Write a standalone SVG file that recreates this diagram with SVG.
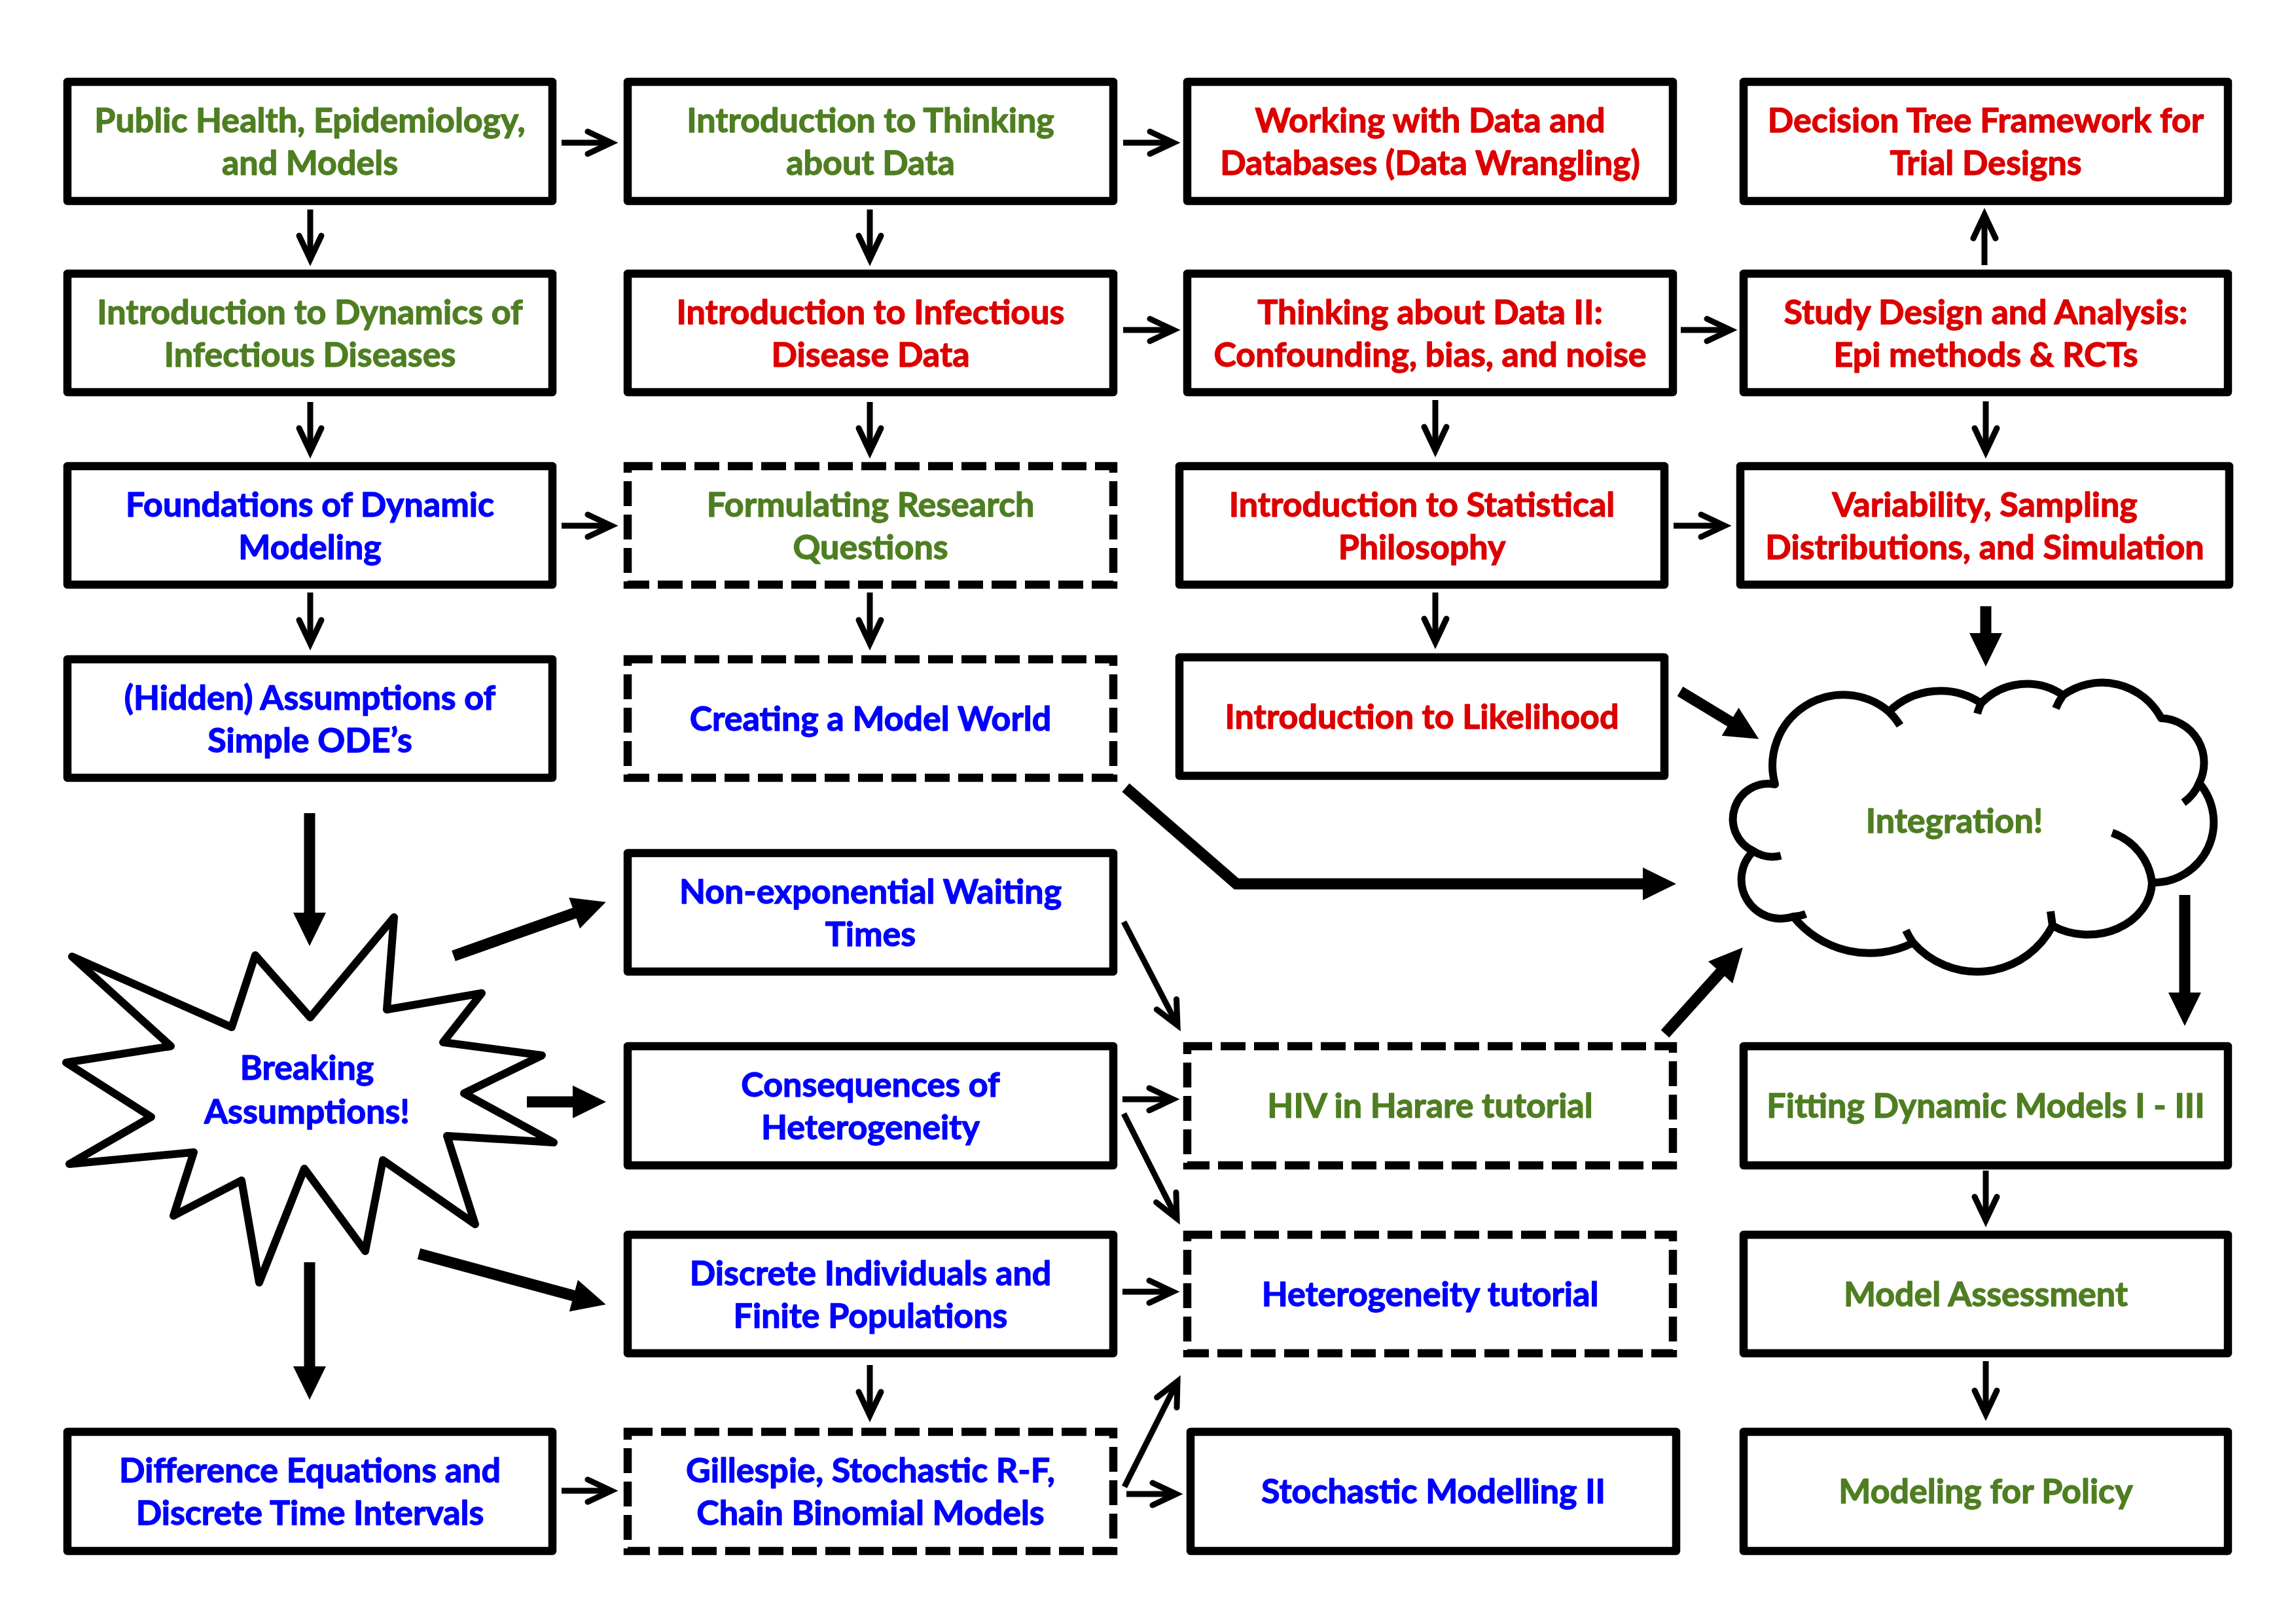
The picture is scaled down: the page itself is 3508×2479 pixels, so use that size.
<svg xmlns="http://www.w3.org/2000/svg" width="3508" height="2479" viewBox="0 0 3508 2479">
<style>
.box{fill:#fff;stroke:#000;stroke-width:12.5;stroke-linejoin:round}
.dash{fill:#fff;stroke:#000;stroke-width:12.5;stroke-dasharray:38 13}
.t{font-family:Lato,"Liberation Sans",sans-serif;font-weight:bold;font-size:52px;text-anchor:middle;stroke-width:1.3;stroke-linejoin:round}
.g{fill:#4E7E21;stroke:#4E7E21}.r{fill:#DC0000;stroke:#DC0000}.b{fill:#0000FF;stroke:#0000FF}
.thin{stroke:#000;stroke-width:9;fill:none;marker-end:url(#ah)}
.thick{stroke:#000;stroke-width:17;fill:none;marker-end:url(#bh)}
.shape{fill:#fff;stroke:#000;stroke-width:12;stroke-linejoin:round}
.stub{fill:none;stroke:#000;stroke-width:12}
</style>
<defs>
<marker id="ah" markerUnits="userSpaceOnUse" viewBox="-50 -30 70 60" markerWidth="70" markerHeight="60" refX="0" refY="0" orient="auto"><path d="M-36,-17 L0,0 L-36,17" fill="none" stroke="#000" stroke-width="9" stroke-linecap="round"/></marker>
<marker id="bh" markerUnits="userSpaceOnUse" viewBox="-20 -30 70 60" markerWidth="70" markerHeight="60" refX="0" refY="0" orient="auto"><path d="M-11,-25 L40,0 L-11,25 Z" fill="#000"/></marker>
</defs>
<rect width="3508" height="2479" fill="#fff"/>

<g id="connectors">
<line class="thin" x1="858" y1="218" x2="934" y2="218"/>
<line class="thin" x1="1716" y1="218" x2="1793" y2="218"/>
<line class="thin" x1="474" y1="320" x2="474" y2="396"/>
<line class="thin" x1="1329" y1="320" x2="1329" y2="396"/>
<line class="thin" x1="474" y1="614" x2="474" y2="690"/>
<line class="thin" x1="1329" y1="614" x2="1329" y2="690"/>
<line class="thin" x1="1716" y1="504" x2="1793" y2="504"/>
<line class="thin" x1="2568" y1="504" x2="2644" y2="504"/>
<line class="thin" x1="3032" y1="405" x2="3032" y2="328"/>
<line class="thin" x1="3034" y1="613" x2="3034" y2="690"/>
<line class="thin" x1="2193" y1="611" x2="2193" y2="688"/>
<line class="thin" x1="858" y1="803" x2="934" y2="803"/>
<line class="thin" x1="474" y1="905" x2="474" y2="983"/>
<line class="thin" x1="1329" y1="905" x2="1329" y2="983"/>
<line class="thin" x1="2193" y1="905" x2="2193" y2="981"/>
<line class="thin" x1="2557" y1="803" x2="2635" y2="803"/>
<line class="thin" x1="1717" y1="1408" x2="1799" y2="1566"/>
<line class="thin" x1="1715" y1="1679" x2="1792" y2="1679"/>
<line class="thin" x1="1717" y1="1701" x2="1798" y2="1861"/>
<line class="thin" x1="1715" y1="1973" x2="1792" y2="1973"/>
<line class="thin" x1="1329" y1="2085" x2="1329" y2="2162"/>
<line class="thin" x1="858" y1="2277" x2="934" y2="2277"/>
<line class="thin" x1="1718" y1="2271" x2="1799" y2="2110"/>
<line class="thin" x1="1721" y1="2282" x2="1797" y2="2282"/>
<line class="thin" x1="3034" y1="1788" x2="3034" y2="1864"/>
<line class="thin" x1="3034" y1="2079" x2="3034" y2="2160"/>

<line class="thick" x1="473" y1="1242" x2="473" y2="1405"/>
<line class="thick" x1="473" y1="1928" x2="473" y2="2098"/>
<line class="thick" x1="693" y1="1460" x2="888" y2="1391"/>
<line class="thick" x1="805" y1="1683" x2="886" y2="1683"/>
<line class="thick" x1="640" y1="1915" x2="887" y2="1982"/>
<polyline class="thick" points="1720,1203 1889,1350 2521,1350"/>
<line class="thick" x1="2567" y1="1056" x2="2653" y2="1108"/>
<line class="thick" x1="3034" y1="926" x2="3034" y2="978"/>
<line class="thick" x1="2544" y1="1579" x2="2636" y2="1477"/>
<line class="thick" x1="3338" y1="1367" x2="3338" y2="1527"/>
</g>

<g id="n-public-health"><rect class="box" x="103" y="125" width="741" height="182"/>
<text class="t g" x="473.5" y="202">Public Health, Epidemiology,</text><text class="t g" x="473.5" y="267">and Models</text></g>
<g id="n-intro-thinking"><rect class="box" x="959" y="125" width="742" height="182"/>
<text class="t g" x="1330" y="202">Introduction to Thinking</text><text class="t g" x="1330" y="267">about Data</text></g>
<g id="n-working-data"><rect class="box" x="1814" y="125" width="742" height="182"/>
<text class="t r" x="2185" y="202">Working with Data and</text><text class="t r" x="2185" y="267">Databases (Data Wrangling)</text></g>
<g id="n-decision-tree"><rect class="box" x="2664" y="125" width="740" height="182"/>
<text class="t r" x="3034" y="202">Decision Tree Framework for</text><text class="t r" x="3034" y="267">Trial Designs</text></g>

<g id="n-intro-dynamics"><rect class="box" x="103" y="418" width="741" height="181"/>
<text class="t g" x="473.5" y="495">Introduction to Dynamics of</text><text class="t g" x="473.5" y="560">Infectious Diseases</text></g>
<g id="n-intro-id-data"><rect class="box" x="959" y="418" width="742" height="181"/>
<text class="t r" x="1330" y="495">Introduction to Infectious</text><text class="t r" x="1330" y="560">Disease Data</text></g>
<g id="n-thinking-data-2"><rect class="box" x="1814" y="418" width="742" height="181"/>
<text class="t r" x="2185" y="495">Thinking about Data II:</text><text class="t r" x="2185" y="560">Confounding, bias, and noise</text></g>
<g id="n-study-design"><rect class="box" x="2664" y="418" width="740" height="181"/>
<text class="t r" x="3034" y="495">Study Design and Analysis:</text><text class="t r" x="3034" y="560">Epi methods &amp; RCTs</text></g>

<g id="n-foundations"><rect class="box" x="103" y="712" width="741" height="181"/>
<text class="t b" x="473.5" y="789">Foundations of Dynamic</text><text class="t b" x="473.5" y="854">Modeling</text></g>
<g id="n-formulating"><rect class="dash" x="959" y="712" width="742" height="181"/>
<text class="t g" x="1330" y="789">Formulating Research</text><text class="t g" x="1330" y="854">Questions</text></g>
<g id="n-stat-philosophy"><rect class="box" x="1802" y="712" width="741" height="181"/>
<text class="t r" x="2172.5" y="789">Introduction to Statistical</text><text class="t r" x="2172.5" y="854">Philosophy</text></g>
<g id="n-variability"><rect class="box" x="2659" y="712" width="747" height="181"/>
<text class="t r" x="3032.5" y="789">Variability, Sampling</text><text class="t r" x="3032.5" y="854">Distributions, and Simulation</text></g>

<g id="n-hidden-assumptions"><rect class="box" x="103" y="1007" width="741" height="181"/>
<text class="t b" x="473.5" y="1084">(Hidden) Assumptions of</text><text class="t b" x="473.5" y="1149">Simple ODE’s</text></g>
<g id="n-model-world"><rect class="dash" x="959" y="1007" width="742" height="181"/>
<text class="t b" x="1330" y="1116">Creating a Model World</text></g>
<g id="n-likelihood"><rect class="box" x="1802" y="1004" width="741" height="181"/>
<text class="t r" x="2172.5" y="1113">Introduction to Likelihood</text></g>

<g id="n-non-exponential"><rect class="box" x="959" y="1303" width="742" height="181"/>
<text class="t b" x="1330" y="1380">Non-exponential Waiting</text><text class="t b" x="1330" y="1445">Times</text></g>

<g id="n-heterogeneity"><rect class="box" x="959" y="1598" width="742" height="182"/>
<text class="t b" x="1330" y="1675">Consequences of</text><text class="t b" x="1330" y="1740">Heterogeneity</text></g>
<g id="n-hiv-harare"><rect class="dash" x="1814" y="1598" width="742" height="182"/>
<text class="t g" x="2185" y="1707">HIV in Harare tutorial</text></g>
<g id="n-fitting"><rect class="box" x="2664" y="1598" width="740" height="182"/>
<text class="t g" x="3034" y="1707">Fitting Dynamic Models I - III</text></g>

<g id="n-discrete-individuals"><rect class="box" x="959" y="1886" width="742" height="181"/>
<text class="t b" x="1330" y="1963">Discrete Individuals and</text><text class="t b" x="1330" y="2028">Finite Populations</text></g>
<g id="n-heterogeneity-tutorial"><rect class="dash" x="1814" y="1886" width="742" height="181"/>
<text class="t b" x="2185" y="1995">Heterogeneity tutorial</text></g>
<g id="n-model-assessment"><rect class="box" x="2664" y="1886" width="740" height="181"/>
<text class="t g" x="3034" y="1995">Model Assessment</text></g>

<g id="n-difference-eq"><rect class="box" x="103" y="2187" width="741" height="182"/>
<text class="t b" x="473.5" y="2264">Difference Equations and</text><text class="t b" x="473.5" y="2329">Discrete Time Intervals</text></g>
<g id="n-gillespie"><rect class="dash" x="959" y="2187" width="742" height="182"/>
<text class="t b" x="1330" y="2264">Gillespie, Stochastic R-F,</text><text class="t b" x="1330" y="2329">Chain Binomial Models</text></g>
<g id="n-stochastic-2"><rect class="box" x="1819" y="2187" width="742" height="182"/>
<text class="t b" x="2190" y="2296">Stochastic Modelling II</text></g>
<g id="n-policy"><rect class="box" x="2664" y="2187" width="740" height="182"/>
<text class="t g" x="3034" y="2296">Modeling for Policy</text></g>

<g id="n-breaking">
<polygon class="shape" points="110,1461 354,1569 390,1459 474,1554 602,1401 591,1542 736,1517 677,1592 828,1612 709,1670 846,1745 683,1735 726,1870 585,1772 558,1911 465,1785 396,1959 369,1803 265,1857 296,1760 106,1778 231,1706 101,1623 261,1598"/>
<text class="t b" x="469" y="1649">Breaking</text><text class="t b" x="469" y="1716">Assumptions!</text>
</g>

<g id="n-integration">
<path class="shape" d="M2712,1198 A108,108 0 0 1 2886,1087 A113,113 0 0 1 3027,1074 A97,97 0 0 1 3152,1062 A102,102 0 0 1 3302,1097 A68,68 0 0 1 3360,1196 A92,92 0 0 1 3288,1348 A98,82 0 0 1 3136,1414 A130,130 0 0 1 2923,1440 A149,149 0 0 1 2740,1400 A60,60 0 0 1 2679,1300 A54,54 0 0 1 2712,1198 Z"/>
<path class="stub" d="M2886,1087 A108,108 0 0 1 2903,1108 M3027,1074 A97,97 0 0 0 3021,1090 M3152,1062 A102,102 0 0 0 3141,1082 M3360,1196 A68,68 0 0 1 3336,1226 M3227,1272 A92,92 0 0 1 3288,1348 M3133,1392 L3136,1414 M2923,1440 A130,130 0 0 1 2912,1421 M2740,1400 A60,60 0 0 0 2759,1396 M2679,1300 A54,54 0 0 0 2721,1307"/>
<text class="t g" x="2986" y="1272">Integration!</text>
</g>
</svg>
